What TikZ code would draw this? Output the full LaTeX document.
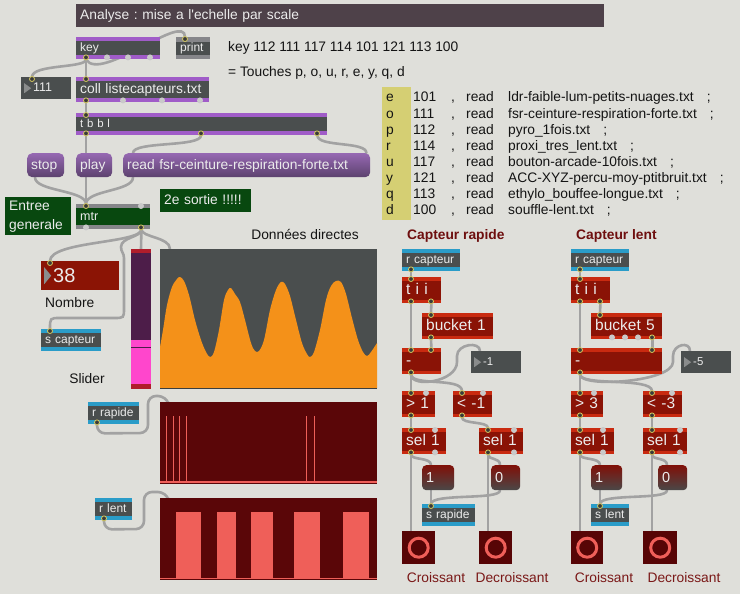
\documentclass[tikz,border=0pt]{standalone}
\usepackage{fontspec}
\setmainfont{Liberation Sans}
\definecolor{bg}{HTML}{DFDFDA}
\definecolor{titlec}{HTML}{4E4149}
\definecolor{objgray}{HTML}{4A4E4E}
\definecolor{objtext}{HTML}{ECECEC}
\definecolor{purp}{HTML}{A05CC8}
\definecolor{mgray}{HTML}{86868A}
\definecolor{dkgreen}{HTML}{08480F}
\definecolor{msgtop}{HTML}{9668B2}
\definecolor{msgbot}{HTML}{5C426E}
\definecolor{redbody}{HTML}{8A1306}
\definecolor{redstripe}{HTML}{C92A10}
\definecolor{numred}{HTML}{8B1405}
\definecolor{bluec}{HTML}{2A9CC8}
\definecolor{slred}{HTML}{B01D2B}
\definecolor{slbody}{HTML}{4D1D49}
\definecolor{pinkc}{HTML}{FF46CC}
\definecolor{orangec}{HTML}{F49119}
\definecolor{dkred}{HTML}{5A0608}
\definecolor{pinkline}{HTML}{EF5F59}
\definecolor{yellowc}{HTML}{D5CF73}
\definecolor{capc}{HTML}{6E0F0F}
\definecolor{labc}{HTML}{7A1817}
\definecolor{btnc}{HTML}{570506}
\definecolor{cordc}{HTML}{A2A2A2}
\definecolor{ringc}{HTML}{D8CC60}
\definecolor{portdk}{HTML}{3A3A3A}
\definecolor{portgray}{HTML}{C9C9C9}
\definecolor{trig}{HTML}{8A8C8C}
\definecolor{redmsgtop}{HTML}{801008}
\definecolor{redmsgbot}{HTML}{4A4848}
\definecolor{txtc}{HTML}{141414}
\pgfdeclarelayer{bottom}
\pgfdeclarelayer{cords}
\pgfsetlayers{bottom,cords,main}
\begin{document}
\frenchspacing
\begin{tikzpicture}[x=1pt,y=-1pt,
  F/.style={font=\fontsize{13.8}{16}\selectfont, text height=10pt, text depth=2pt},
  Fs/.style={font=\fontsize{12}{14}\selectfont, text height=9pt, text depth=2.4pt},
  Fm/.style={font=\fontsize{12.5}{14}\selectfont, text height=9.3pt, text depth=2.5pt},
  Ft/.style={font=\fontsize{11.4}{13}\selectfont, text height=9pt, text depth=1.6pt},
  Fr/.style={font=\fontsize{15.5}{18}\selectfont, text height=11.2pt, text depth=2pt},
  Fb/.style={font=\fontsize{20}{22}\selectfont, text height=16pt, text depth=1.6pt},
  bx/.style 2 args={anchor=north west, minimum height=#2, text width={#1-8pt}, inner xsep=4pt, inner ysep=0pt, align=left},
  box/.style 2 args={bx={#1}{#2}},
  bands/.style 2 args={path picture={\fill[#1] (path picture bounding box.north west) rectangle ([yshift=-#2]path picture bounding box.north east); \fill[#1] (path picture bounding box.south west) rectangle ([yshift=#2]path picture bounding box.south east);}},
  tri/.style={path picture={\fill[trig] ([xshift=3pt,yshift=-6pt]path picture bounding box.north west) -- ([xshift=3pt,yshift=6pt]path picture bounding box.south west) -- ([xshift=10pt]path picture bounding box.west) -- cycle;}},
  pobj/.style 2 args={box={#1}{#2}, fill=objgray, bands={purp}{4pt}, text=objtext},
  sobj/.style 2 args={box={#1}{#2}, fill=objgray, bands={bluec}{4pt}, text=objtext, Fs},
  robj/.style 2 args={box={#1}{#2}, fill=redbody, bands={redstripe}{3.5pt}, text=objtext, Fr},
  nbox/.style 2 args={box={#1}{#2}, fill=objgray, tri, text=objtext, Ft},
  msg/.style 2 args={box={#1}{#2}, rounded corners=5pt, top color=msgtop, bottom color=msgbot, text=objtext, F},
  rmsg/.style 2 args={box={#1}{#2}, rounded corners=4pt, top color=redmsgtop, bottom color=redmsgbot, text=objtext, font=\fontsize{14.5}{16}\selectfont, text height=10.5pt, text depth=1.5pt},
  btn/.style 2 args={anchor=north west, minimum width=#1, minimum height=#2, inner sep=0pt, fill=btnc, path picture={\draw[pinkline, line width=3pt] (path picture bounding box.center) circle (9.5pt);}},
  area/.style 2 args={anchor=north west, minimum width=#1, minimum height=#2, inner sep=0pt},
  txt/.style={anchor=west, inner sep=0pt, F, text=txtc},
  ctxt/.style={inner sep=0pt, F, text=txtc},
  lab/.style={inner sep=0pt, F, text=labc},
  captitle/.style={anchor=west, inner sep=0pt, F, font=\bfseries\fontsize{13.8}{16}\selectfont, text=capc},
  cord/.style={draw=cordc, line width=2.6pt, line cap=round},
  port/.style={fill=portdk, draw=ringc, line width=0.8pt},
]
\begin{pgfonlayer}{bottom}
\fill[bg] (0,0) rectangle (740,594);
\end{pgfonlayer}
\useasboundingbox (0,0) rectangle (740,594);

% ---------- left / top part ----------
\node[box={528}{23}, fill=titlec, text=objtext, F] (title) at (76,4) {Analyse : mise a l\textquotesingle echelle par scale};
\node[pobj={84}{22}, Fs] (key) at (76,37) {key};
\node[box={34}{22}, fill=objgray, bands={mgray}{4.5pt}, text=objtext, Fs] (print) at (176,37) {print};
\node[txt] (keyc) at (228,48) {key 112 111 117 114 101 121 113 100};
\node[txt] (touch) at (228,73) {= Touches p, o, u, r, e, y, q, d};
\node[nbox={50}{22}, Fm] (n111) at (21,77) {\hspace*{8pt}111};
\node[pobj={133}{25}, F] (coll) at (76,77) {coll listecapteurs.txt};
\node[pobj={251}{22}, Ft] (tbbl) at (76,113) {t b b l};
\node[msg={37}{24}] (stop) at (27,153) {stop};
\node[msg={36}{24}] (play) at (76,153) {play};
\node[msg={247}{24}] (readm) at (123,153) {read fsr-ceinture-respiration-forte.txt};
\node[bx={66}{38}, fill=dkgreen, text=objtext, font=\fontsize{13.8}{16}\selectfont] (entree) at (5,197) {\vspace*{3pt}Entree\\generale};
\node[box={74}{25}, fill=dkgreen, bands={mgray}{4pt}, text=objtext, Fm] (mtr) at (76,204) {mtr};
\node[box={91}{23}, fill=dkgreen, text=objtext, F] (sortie) at (160,189) {2e sortie !!!!!};
\node[ctxt] (dd) at (305,235) {Données directes};
\node[box={78}{29}, fill=numred, tri, text=objtext, Fb] (n38) at (41,261) {\hspace*{8pt}38};
\node[txt] (nombre) at (45,303) {Nombre};
\node[sobj={60}{22}] (scap) at (41,329) {s capteur};
\node[ctxt] (sliderl) at (87,379) {Slider};
\node[area={20}{140}, fill=slbody] (slider) at (131,249) {};
\fill[slred] (131,249) rectangle (151,253);
\fill[pinkc] (131,340) rectangle (151,384);
\draw[slbody, line width=0.8pt] (131,347) -- (151,347);
\fill[slred] (131,384) rectangle (151,389);

\node[area={217}{139}, fill=objgray] (g1) at (160,249) {};
\begin{scope}
\clip (160,249) rectangle (377,388);
\fill[orangec] (160,388) -- plot[smooth, tension=0.55] coordinates {(160,347) (163,330) (167,305) (172,287) (177,279) (180,277) (184,281) (189,295) (195,320) (201,340) (206,352) (210,357) (214,352) (219,330) (224,300) (228,290) (231,288) (235,294) (240,302) (245,320) (251,343) (255,351) (259,351) (264,340) (270,310) (276,290) (281,282) (285,284) (290,296) (296,320) (302,343) (307,354) (310,357) (314,352) (320,330) (326,300) (331,286) (336,281) (341,282) (346,294) (352,318) (358,340) (363,352) (367,356) (371,352) (377,343)} -- (377,388) -- cycle;
\end{scope}
\draw[objgray!80!black, line width=1pt] (160,388) -- (377,388);

\node[sobj={51}{22}] (rrap) at (88,402) {r rapide};
\node[area={217}{82}, fill=dkred] (g2) at (160,402) {};
\draw[pinkline, line width=1.3pt] (160,482) -- (377,482);
\foreach \xx in {166,173,179,186,306,314} {\draw[pinkline, line width=1pt] (\xx,416) -- (\xx,482);}
\node[sobj={37}{22}] (rlent) at (95,498) {r lent};
\node[area={217}{82}, fill=dkred] (g3) at (160,498) {};
\foreach \xa/\xb in {176/201,217/236,251/273,294/320,343/369} {\fill[pinkline] (\xa,512) rectangle (\xb,578);}
\draw[pinkline, line width=1pt] (160,578) -- (377,578);

% ---------- table ----------
\node[area={29}{133}, fill=yellowc] (ybox) at (382,87) {};
\foreach \ka/\kb/\kc [count=\i] in {e/101/ldr-faible-lum-petits-nuages.txt, o/111/fsr-ceinture-respiration-forte.txt, p/112/pyro\_1fois.txt, r/114/proxi\_tres\_lent.txt, u/117/bouton-arcade-10fois.txt, y/121/ACC-XYZ-percu-moy-ptitbruit.txt, q/113/ethylo\_bouffee-longue.txt, d/100/souffle-lent.txt} {
  \node[txt] (tl\i) at (386,{98+(\i-1)*16.1}) {\ka};
  \node[txt] (tn\i) at (413,{98+(\i-1)*16.1}) {\kb};
  \node[txt] (tc\i) at (451,{98+(\i-1)*16.1}) {,};
  \node[txt] (tr\i) at (466,{98+(\i-1)*16.1}) {read};
  \node[txt] (tf\i) at (508,{98+(\i-1)*16.1}) {\kc\hspace{13pt};};
}

% ---------- capteur rapide ----------
\node[captitle] (cap1) at (407,235) {Capteur rapide};
\node[sobj={58}{22}] (rcap1) at (402,249) {r capteur};
\node[robj={39}{26}] (tii1) at (402,277) {t i i};
\node[robj={71}{26}] (bucket1) at (422,313) {bucket 1};
\node[robj={39}{26}] (minus1) at (402,348) {-};
\node[nbox={50}{22}] (nbm1) at (471,351) {\hspace*{8pt}-1};
\node[robj={33}{26}] (gt1) at (402,391) {> 1};
\node[robj={39}{26}] (lt1) at (453,391) {< -1};
\node[robj={44}{26}] (sel1a) at (402,428) {sel 1};
\node[robj={44}{26}] (sel1b) at (479,428) {sel 1};
\node[rmsg={32}{25}] (msg1a) at (422,465) {1};
\node[rmsg={29}{25}] (msg0a) at (491,465) {0};
\node[sobj={53}{22}] (srap) at (422,504) {s rapide};
\node[btn={33}{33}] (btn1a) at (402,531) {};
\node[btn={33}{33}] (btn1b) at (479,531) {};
\node[lab] (cro1) at (436,578) {Croissant};
\node[lab] (dec1) at (512,578) {Decroissant};

% ---------- capteur lent ----------
\node[captitle] (cap2) at (576,235) {Capteur lent};
\node[sobj={58}{22}] (rcap2) at (571,249) {r capteur};
\node[robj={39}{26}] (tii2) at (571,277) {t i i};
\node[robj={71}{26}] (bucket5) at (591,313) {bucket 5};
\node[robj={91}{26}] (minus2) at (571,348) {-};
\node[nbox={50}{22}] (nbm5) at (681,351) {\hspace*{8pt}-5};
\node[robj={32}{26}] (gt3) at (571,391) {> 3};
\node[robj={39}{26}] (lt3) at (643,391) {< -3};
\node[robj={43}{26}] (sel2a) at (571,428) {sel 1};
\node[robj={44}{26}] (sel2b) at (643,428) {sel 1};
\node[rmsg={31}{25}] (msg1b) at (591,465) {1};
\node[rmsg={29}{25}] (msg0b) at (658,465) {0};
\node[sobj={38}{22}] (slent) at (591,504) {s lent};
\node[btn={32}{33}] (btn2a) at (571,531) {};
\node[btn={34}{33}] (btn2b) at (643,531) {};
\node[lab] (cro2) at (604,578) {Croissant};
\node[lab] (dec2) at (684,578) {Decroissant};

% ---------- cords ----------
\begin{pgfonlayer}{cords}
\draw[cord] ([xshift=10pt]key.south west) -- ([xshift=10pt]coll.north west);
\draw[cord] ([xshift=10pt]key.south west) .. controls +(0,9) and +(0,-13) .. ([xshift=11pt]n111.north west);
\draw[cord] ([xshift=10pt]key.south west) .. controls +(14,24) and +(0,-26) .. ([xshift=9pt]print.north west);
\draw[cord] ([xshift=10pt]coll.south west) -- ([xshift=10pt]tbbl.north west);
\draw[cord] ([xshift=10pt]tbbl.south west) -- ([xshift=10pt]play.north west);
\draw[cord] ([xshift=125pt]tbbl.south west) .. controls +(0,12) and +(0,-12) .. ([xshift=10pt]readm.north west);
\draw[cord] ([xshift=-10pt]tbbl.south east) .. controls +(0,12) and +(0,-12) .. ([xshift=-4pt]readm.north east);
\draw[cord] ([xshift=8pt]stop.south west) .. controls +(0,14) and +(0,-14) .. ([xshift=10pt]mtr.north west);
\draw[cord] ([xshift=10pt]play.south west) -- ([xshift=10pt]mtr.north west);
\draw[cord] ([xshift=10pt]readm.south west) .. controls +(0,14) and +(0,-14) .. ([xshift=10pt]mtr.north west);
\draw[cord] ([xshift=-9pt]mtr.south east) .. controls +(0,14) and +(0,-20) .. ([xshift=9pt]n38.north west);
\draw[cord] ([xshift=-9pt]mtr.south east) .. controls +(0,8) and +(0,-10) .. (121,247) .. controls +(0,5) and +(0,-5) .. (124,258) -- (124,308) .. controls (124,318) .. (114,318) -- (60,318) .. controls (50,318) .. ([xshift=9pt]scap.north west);
\draw[cord] ([xshift=-9pt]mtr.south east) -- ([xshift=10pt]slider.north west);
\draw[cord] ([xshift=-9pt]mtr.south east) .. controls +(0,8) and +(0,-12) .. ([xshift=10pt]g1.north west);
\draw[cord, rounded corners=8pt] ([xshift=9pt]rrap.south west) -- ++(0,9) -- (148,433) -- (148,396) -- (166,396) -- ([xshift=8pt]g2.north west);
\draw[cord, rounded corners=8pt] ([xshift=9pt]rlent.south west) -- ++(0,9) -- (144,529) -- (144,492) -- (166,492) -- ([xshift=8pt]g3.north west);
% column rapide
\draw[cord] ([xshift=9pt]rcap1.south west) -- ([xshift=9pt]tii1.north west);
\draw[cord] ([xshift=9pt]tii1.south west) -- ([xshift=9pt]minus1.north west);
\draw[cord] ([xshift=-10pt]tii1.south east) -- ([xshift=9pt]bucket1.north west);
\draw[cord] ([xshift=9pt]bucket1.south west) -- ([xshift=-10pt]minus1.north east);
\draw[cord] ([xshift=9pt]minus1.south west) -- ([xshift=9pt]gt1.north west);
\draw[cord] ([xshift=9pt]minus1.south west) .. controls +(0,12) and +(0,-14) .. ([xshift=9pt]lt1.north west);
\draw[cord] ([xshift=9pt]minus1.south west) .. controls +(0,14) and +(0,20) .. (457,362) -- (457,356) .. controls +(0,-12) and +(0,-10) .. ([xshift=9pt]nbm1.north west);
\draw[cord] ([xshift=9pt]gt1.south west) -- ([xshift=9pt]sel1a.north west);
\draw[cord] ([xshift=9pt]lt1.south west) .. controls +(0,7) and +(0,-7) .. ([xshift=9pt]sel1b.north west);
\draw[cord] ([xshift=9pt]sel1a.south west) -- ([xshift=9pt]btn1a.north west);
\draw[cord] ([xshift=9pt]sel1a.south west) .. controls +(0,6) and +(0,-8) .. ([xshift=9pt]msg1a.north west);
\draw[cord] ([xshift=9pt]sel1b.south west) -- ([xshift=9pt]btn1b.north west);
\draw[cord] ([xshift=9pt]sel1b.south west) .. controls +(0,6) and +(0,-8) .. ([xshift=9pt]msg0a.north west);
\draw[cord] ([xshift=9pt]msg1a.south west) -- ([xshift=9pt]srap.north west);
\draw[cord] ([xshift=9pt]msg0a.south west) .. controls +(0,10) and +(0,-11) .. ([xshift=9pt]srap.north west);
% column lent
\draw[cord] ([xshift=9pt]rcap2.south west) -- ([xshift=9pt]tii2.north west);
\draw[cord] ([xshift=9pt]tii2.south west) -- ([xshift=9pt]minus2.north west);
\draw[cord] ([xshift=-10pt]tii2.south east) -- ([xshift=9pt]bucket5.north west);
\draw[cord] ([xshift=-10pt]bucket5.south east) -- ([xshift=-10pt]minus2.north east);
\draw[cord] ([xshift=9pt]minus2.south west) -- ([xshift=9pt]gt3.north west);
\draw[cord] ([xshift=9pt]minus2.south west) .. controls +(0,12) and +(0,-14) .. ([xshift=9pt]lt3.north west);
\draw[cord] ([xshift=9pt]minus2.south west) .. controls +(0,14) and +(0,20) .. (673,362) -- (673,356) .. controls +(0,-12) and +(0,-10) .. ([xshift=9pt]nbm5.north west);
\draw[cord] ([xshift=9pt]gt3.south west) -- ([xshift=9pt]sel2a.north west);
\draw[cord] ([xshift=9pt]lt3.south west) -- ([xshift=9pt]sel2b.north west);
\draw[cord] ([xshift=9pt]sel2a.south west) -- ([xshift=9pt]btn2a.north west);
\draw[cord] ([xshift=9pt]sel2a.south west) .. controls +(0,6) and +(0,-8) .. ([xshift=9pt]msg1b.north west);
\draw[cord] ([xshift=9pt]sel2b.south west) -- ([xshift=9pt]btn2b.north west);
\draw[cord] ([xshift=9pt]sel2b.south west) .. controls +(0,6) and +(0,-8) .. ([xshift=9pt]msg0b.north west);
\draw[cord] ([xshift=9pt]msg1b.south west) -- ([xshift=9pt]slent.north west);
\draw[cord] ([xshift=9pt]msg0b.south west) .. controls +(0,10) and +(0,-11) .. ([xshift=9pt]slent.north west);
\end{pgfonlayer}

% ---------- ports ----------
\foreach \nn/\dx in {key/10,coll/10,tbbl/10,tbbl/125,tbbl/241,mtr/65,rrap/9,rlent/9,rcap1/9,tii1/9,tii1/29,bucket1/9,minus1/9,gt1/9,lt1/9,sel1a/9,sel1b/9,rcap2/9,tii2/9,tii2/29,bucket5/61,minus2/9,gt3/9,lt3/9,sel2a/9,sel2b/9}
  {\path[port] ([xshift=\dx pt, yshift=2pt]\nn.south west) circle (2.5pt);}
\foreach \nn/\dx in {coll/10,n111/11,print/9,tbbl/10,mtr/10,n38/9,scap/9,tii1/9,bucket1/9,minus1/9,minus1/29,gt1/9,lt1/9,sel1a/9,sel1b/9,srap/9,tii2/9,bucket5/9,minus2/9,minus2/81,gt3/9,lt3/9,sel2a/9,sel2b/9,slent/9}
  {\path[port] ([xshift=\dx pt, yshift=-2pt]\nn.north west) circle (2.5pt);}
\foreach \nn/\dx in {key/31,key/52,key/74,coll/47,coll/86,coll/124,mtr/10,sel1a/33,sel1b/35,bucket5/21,bucket5/34,bucket5/47,sel2a/32,sel2b/37}
  {\fill[portgray] ([xshift=\dx pt, yshift=2pt]\nn.south west) circle (3pt);}
\foreach \nn/\dx in {mtr/65,gt1/24,lt1/30,sel1a/33,sel1b/35,gt3/23,lt3/29,sel2a/32,sel2b/37}
  {\fill[portgray] ([xshift=\dx pt, yshift=-2pt]\nn.north west) circle (3pt);}
\end{tikzpicture}
\end{document}
